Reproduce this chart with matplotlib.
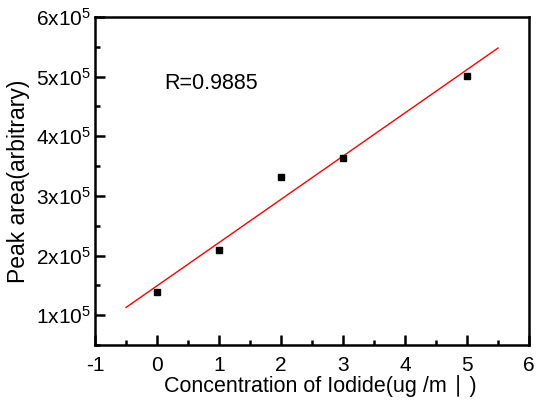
import numpy as np
import matplotlib
matplotlib.use('Agg')
import matplotlib.pyplot as plt
from matplotlib.ticker import MultipleLocator, FuncFormatter

plt.rcParams['font.family'] = ['Liberation Sans', 'DejaVu Sans']
plt.rcParams['mathtext.fontset'] = 'custom'
plt.rcParams['mathtext.rm'] = 'Liberation Sans'
plt.rcParams['axes.unicode_minus'] = False

# iodide concentration vs peak area
conc = [0, 1, 2, 3, 5]
peak_area = [1.386e5, 2.085e5, 3.32e5, 3.63e5, 5.015e5]
fit_range = [-0.5, 5.5]
r_label = "R=0.9885"

slope, intercept = np.polyfit(conc, peak_area, 1)
fit_x = np.array(fit_range)
fit_y = slope * fit_x + intercept

fig = plt.figure(figsize=(5.37, 4.08), dpi=100)
ax = fig.add_axes([95 / 537, 1 - 345 / 408, (529 - 95) / 537, (345 - 17) / 408])

ax.plot(fit_x, fit_y, color='red', lw=1)
ax.plot(conc, peak_area, 's', color='black', markersize=4.5)

ax.set_xlim(-1, 6)
ax.set_ylim(0.5e5, 6e5)
ax.xaxis.set_major_locator(MultipleLocator(1))
ax.xaxis.set_minor_locator(MultipleLocator(0.5))
ax.yaxis.set_major_locator(MultipleLocator(1e5))
ax.yaxis.set_minor_locator(MultipleLocator(0.5e5))
ax.yaxis.set_major_formatter(FuncFormatter(
    lambda v, p: r'$\mathregular{%dx10^{5}}$' % round(v / 1e5)))

ax.tick_params(which='both', direction='in', top=False, right=False,
               labelsize=15, width=1.8)
ax.tick_params(which='major', length=7)
ax.tick_params(which='minor', length=3.5)
ax.tick_params(axis='x', which='major', pad=8)
ax.tick_params(axis='y', which='major', pad=3)
for s in ax.spines.values():
    s.set_linewidth(1.8)

ax.text(0.11, 4.89e5, r_label, fontsize=15.5, va='center')
ax.set_xlabel('Concentration of Iodide(ug /m \u2223 )', fontsize=15.5, labelpad=0)
ax.xaxis.label.set_x(0.52)
ax.set_ylabel('Peak area(arbitrary)', fontsize=16.5, labelpad=4)

fig.savefig('out.png', dpi=100)
